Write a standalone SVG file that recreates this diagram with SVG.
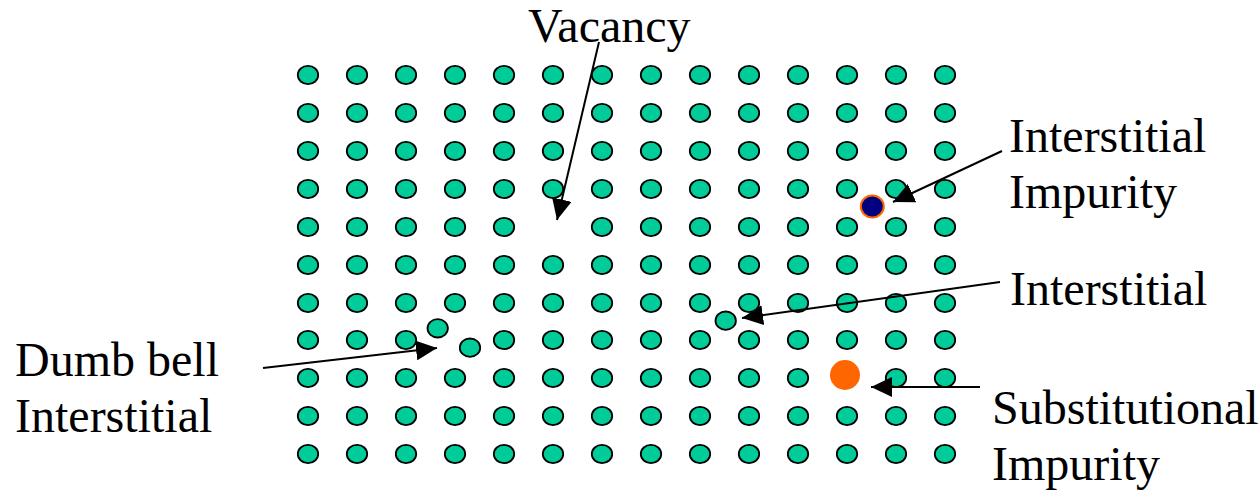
<svg xmlns="http://www.w3.org/2000/svg" width="1259" height="491" viewBox="0 0 1259 491">
  <style>
    .atom { fill: #00CC99; stroke: #000; stroke-width: 1.8; }
    .label { font-family: 'Liberation Serif', 'Times New Roman', 'DejaVu Serif', serif; font-size: 48px; fill: #000; }
    .arrow { fill: none; stroke: #000; stroke-width: 2; marker-end: url(#head); }
  </style>
  <defs>
    <ellipse id="a" class="atom" cx="0" cy="0" rx="10.2" ry="9.2"/>
    <marker id="head" markerUnits="userSpaceOnUse" markerWidth="22" markerHeight="20" refX="21" refY="10" orient="auto" viewBox="0 0 22 20">
      <path d="M0,0 L21,10 L0,20 Z" fill="#000"/>
    </marker>
  </defs>
  <rect width="1259" height="491" fill="#fff"/>

  <!-- host lattice: 14 columns x 11 rows -->
  <g id="lattice">
    <g transform="translate(0,75)">
      <use href="#a" x="308"/><use href="#a" x="357"/><use href="#a" x="406"/><use href="#a" x="455"/><use href="#a" x="504"/><use href="#a" x="553"/><use href="#a" x="602"/><use href="#a" x="651"/><use href="#a" x="700"/><use href="#a" x="749"/><use href="#a" x="798"/><use href="#a" x="847"/><use href="#a" x="896"/><use href="#a" x="945"/>
    </g>
    <g transform="translate(0,113)">
      <use href="#a" x="308"/><use href="#a" x="357"/><use href="#a" x="406"/><use href="#a" x="455"/><use href="#a" x="504"/><use href="#a" x="553"/><use href="#a" x="602"/><use href="#a" x="651"/><use href="#a" x="700"/><use href="#a" x="749"/><use href="#a" x="798"/><use href="#a" x="847"/><use href="#a" x="896"/><use href="#a" x="945"/>
    </g>
    <g transform="translate(0,151)">
      <use href="#a" x="308"/><use href="#a" x="357"/><use href="#a" x="406"/><use href="#a" x="455"/><use href="#a" x="504"/><use href="#a" x="553"/><use href="#a" x="602"/><use href="#a" x="651"/><use href="#a" x="700"/><use href="#a" x="749"/><use href="#a" x="798"/><use href="#a" x="847"/><use href="#a" x="896"/><use href="#a" x="945"/>
    </g>
    <g transform="translate(0,189)">
      <use href="#a" x="308"/><use href="#a" x="357"/><use href="#a" x="406"/><use href="#a" x="455"/><use href="#a" x="504"/><use href="#a" x="553"/><use href="#a" x="602"/><use href="#a" x="651"/><use href="#a" x="700"/><use href="#a" x="749"/><use href="#a" x="798"/><use href="#a" x="847"/><use href="#a" x="896"/><use href="#a" x="945"/>
    </g>
    <!-- row with the empty site at x=553 -->
    <g transform="translate(0,227)">
      <use href="#a" x="308"/><use href="#a" x="357"/><use href="#a" x="406"/><use href="#a" x="455"/><use href="#a" x="504"/><use href="#a" x="602"/><use href="#a" x="651"/><use href="#a" x="700"/><use href="#a" x="749"/><use href="#a" x="798"/><use href="#a" x="847"/><use href="#a" x="896"/><use href="#a" x="945"/>
    </g>
    <g transform="translate(0,265)">
      <use href="#a" x="308"/><use href="#a" x="357"/><use href="#a" x="406"/><use href="#a" x="455"/><use href="#a" x="504"/><use href="#a" x="553"/><use href="#a" x="602"/><use href="#a" x="651"/><use href="#a" x="700"/><use href="#a" x="749"/><use href="#a" x="798"/><use href="#a" x="847"/><use href="#a" x="896"/><use href="#a" x="945"/>
    </g>
    <g transform="translate(0,303)">
      <use href="#a" x="308"/><use href="#a" x="357"/><use href="#a" x="406"/><use href="#a" x="455"/><use href="#a" x="504"/><use href="#a" x="553"/><use href="#a" x="602"/><use href="#a" x="651"/><use href="#a" x="700"/><use href="#a" x="749"/><use href="#a" x="798"/><use href="#a" x="847"/><use href="#a" x="896"/><use href="#a" x="945"/>
    </g>
    <!-- row whose site at x=455 is split into the dumb-bell pair -->
    <g transform="translate(0,340)">
      <use href="#a" x="308"/><use href="#a" x="357"/><use href="#a" x="406"/><use href="#a" x="504"/><use href="#a" x="553"/><use href="#a" x="602"/><use href="#a" x="651"/><use href="#a" x="700"/><use href="#a" x="749"/><use href="#a" x="798"/><use href="#a" x="847"/><use href="#a" x="896"/><use href="#a" x="945"/>
    </g>
    <!-- row whose site at x=847 holds the foreign atom -->
    <g transform="translate(0,378)">
      <use href="#a" x="308"/><use href="#a" x="357"/><use href="#a" x="406"/><use href="#a" x="455"/><use href="#a" x="504"/><use href="#a" x="553"/><use href="#a" x="602"/><use href="#a" x="651"/><use href="#a" x="700"/><use href="#a" x="749"/><use href="#a" x="798"/><use href="#a" x="896"/><use href="#a" x="945"/>
    </g>
    <g transform="translate(0,416)">
      <use href="#a" x="308"/><use href="#a" x="357"/><use href="#a" x="406"/><use href="#a" x="455"/><use href="#a" x="504"/><use href="#a" x="553"/><use href="#a" x="602"/><use href="#a" x="651"/><use href="#a" x="700"/><use href="#a" x="749"/><use href="#a" x="798"/><use href="#a" x="847"/><use href="#a" x="896"/><use href="#a" x="945"/>
    </g>
    <g transform="translate(0,454)">
      <use href="#a" x="308"/><use href="#a" x="357"/><use href="#a" x="406"/><use href="#a" x="455"/><use href="#a" x="504"/><use href="#a" x="553"/><use href="#a" x="602"/><use href="#a" x="651"/><use href="#a" x="700"/><use href="#a" x="749"/><use href="#a" x="798"/><use href="#a" x="847"/><use href="#a" x="896"/><use href="#a" x="945"/>
    </g>
  </g>

  <!-- defects -->
  <g id="dumbbell">
    <ellipse class="atom" cx="437.7" cy="328.3" rx="10.2" ry="9.2"/>
    <ellipse class="atom" cx="470" cy="347.7" rx="10.2" ry="9.2"/>
  </g>
  <g id="self-interstitial">
    <ellipse class="atom" cx="725.7" cy="320.7" rx="10.2" ry="9.2"/>
  </g>
  <g id="interstitial-impurity">
    <ellipse cx="872.3" cy="206.5" rx="11.5" ry="11" fill="#000080" stroke="#FF6600" stroke-width="2"/>
  </g>
  <g id="substitutional-impurity">
    <circle cx="845" cy="375" r="15" fill="#FF6600"/>
  </g>

  <!-- labels -->
  <g id="label-vacancy">
    <text class="label" x="528" y="42">Vacancy</text>
  </g>
  <g id="label-interstitial-impurity">
    <text class="label" x="1009" y="152">Interstitial</text>
    <text class="label" x="1009" y="208">Impurity</text>
  </g>
  <g id="label-interstitial">
    <text class="label" x="1010" y="305">Interstitial</text>
  </g>
  <g id="label-dumbbell">
    <text class="label" x="15" y="376">Dumb bell</text>
    <text class="label" x="15" y="432">Interstitial</text>
  </g>
  <g id="label-substitutional">
    <text class="label" x="992" y="424">Substitutional</text>
    <text class="label" x="992" y="480">Impurity</text>
  </g>

  <!-- pointer arrows -->
  <g id="connectors">
    <line class="arrow" x1="599" y1="42" x2="557" y2="220"/>
    <line class="arrow" x1="1002" y1="151" x2="893" y2="202"/>
    <line class="arrow" x1="1000" y1="282" x2="742" y2="318"/>
    <line class="arrow" x1="263" y1="368" x2="437" y2="348"/>
    <line class="arrow" x1="980" y1="387" x2="871" y2="387"/>
  </g>
</svg>
